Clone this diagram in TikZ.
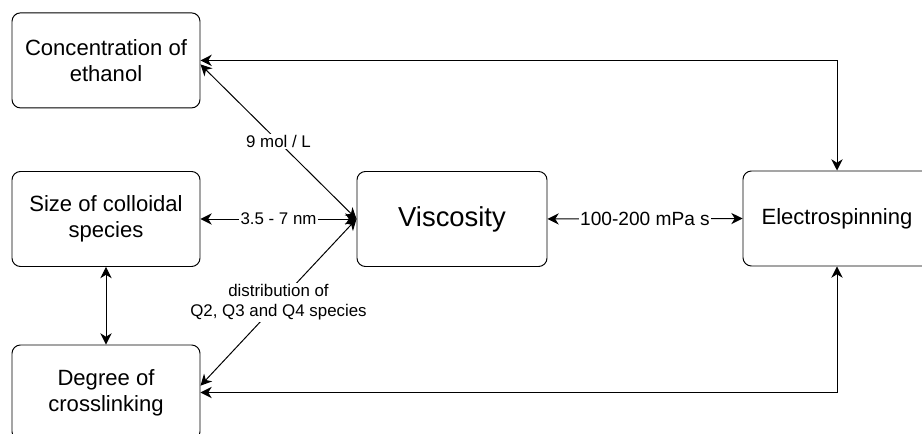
\documentclass[tikz,border=0pt]{standalone}
\usepackage{fontspec}
\setmainfont{Liberation Sans}
\usepackage{tikz}
\usetikzlibrary{arrows.meta,positioning,calc}

\begin{document}
\begin{tikzpicture}[
  block/.style={
    rectangle, draw, rounded corners=6pt, line width=0.7pt,
    minimum width=4.7cm, minimum height=2.375cm, align=center,
    font=\fontsize{15.7}{18.5}\selectfont
  },
  lbl/.style={fill=white, inner sep=1pt, align=center, font=\fontsize{12}{14.2}\selectfont},
  arr/.style={{Stealth[length=8pt,width=8pt,inset=2.5pt]}-{Stealth[length=8pt,width=8pt,inset=2.5pt]}, line width=0.7pt}
]
\useasboundingbox (0,0) rectangle (23.05,10.85);
\clip (0,0) rectangle (23.05,10.85);

% --- Factors (left column)
\node[block] (ethanol)   at (2.65, 9.34)   {Concentration of\\ethanol};
\node[block] (colloid)   at (2.65, 5.375)  {Size of colloidal\\species};
\node[block] (crosslink) at (2.65, 1.0375) {Degree of\\crosslinking};

% --- Viscosity and process
\node[block, minimum width=4.75cm, font=\fontsize{19.5}{23}\selectfont] (visc) at (11.3, 5.375) {Viscosity};
\node[block] (espin) at (20.925, 5.3875) {Electrospinning};

% --- Links into viscosity
\draw[arr] ([yshift=-0.1cm]ethanol.east) -- (visc.west)
  node[lbl, midway] (ethanollbl) {9 mol / L};
\draw[arr] (colloid.east) -- (visc.west)
  node[lbl, midway] (colloidlbl) {3.5 - 7 nm};
\draw[arr] ([yshift=0.17cm]crosslink.east) -- (visc.west)
  node[lbl, midway] (crosslinklbl) {distribution of\\Q2, Q3 and Q4 species};
\draw[arr] (colloid.south) -- (crosslink.north);

% --- Links to electrospinning
\draw[arr] (visc.east) -- (espin.west)
  node[lbl, midway, font=\fontsize{13.6}{16}\selectfont] (visclbl) {100-200 mPa s};
\draw[arr] (ethanol.east) -| (espin.north);
\draw[arr] (crosslink.east) -| (espin.south);

\end{tikzpicture}
\end{document}
